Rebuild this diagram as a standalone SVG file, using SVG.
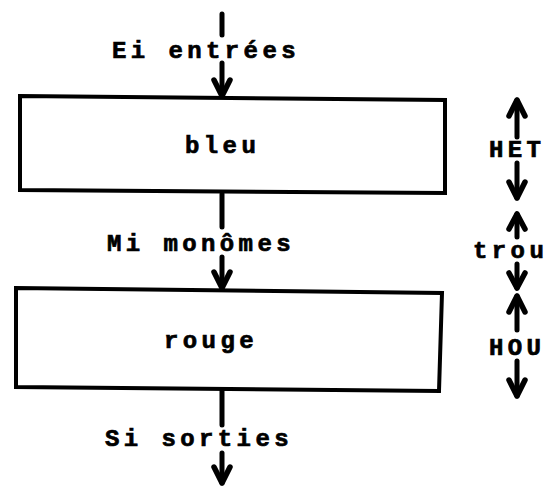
<svg xmlns="http://www.w3.org/2000/svg" width="548" height="486" viewBox="0 0 548 486">
<defs>
<style>
.t{font-family:"Liberation Mono","Courier New",monospace;font-weight:bold;font-size:24px;letter-spacing:4.4px;fill:#000;stroke:#000;stroke-width:0.7px}
.box{fill:none;stroke:#000;stroke-width:4;stroke-linejoin:miter}
.ln{fill:none;stroke:#000;stroke-width:5;stroke-linecap:round}
.hd{fill:none;stroke:#000;stroke-width:5.5;stroke-linecap:round;stroke-linejoin:round}
</style>
</defs>
<rect width="548" height="486" fill="#fff"/>
<g id="bleu">
<path class="box" d="M20,96 L445,100 L445,193 L20,190 Z"/>
<text class="t" x="185" y="153">bleu</text>
</g>
<g id="rouge">
<path class="box" d="M16,288 L442,293 L439,391 L16,387 Z"/>
<text class="t" x="164" y="348">rouge</text>
</g>
<g id="labels">
<text class="t" x="112" y="58">Ei entrées</text>
<text class="t" x="107" y="251">Mi monômes</text>
<text class="t" x="105" y="446">Si sorties</text>
<text class="t" x="489" y="157">HET</text>
<text class="t" x="473" y="258">trou</text>
<text class="t" x="489" y="355">HOU</text>
</g>
<g id="connectors">
<path class="ln" d="M222,14 V35"/>
<path class="ln" d="M222,63 V96"/>
<path class="hd" d="M214,80 L222,96 L230,80"/>
<path class="ln" d="M222,194 V227"/>
<path class="ln" d="M222,257 V288"/>
<path class="hd" d="M214,272 L222,288 L230,272"/>
<path class="ln" d="M222,390 V425"/>
<path class="ln" d="M222,453 V483"/>
<path class="hd" d="M214,467 L222,483 L230,467"/>
<path class="ln" d="M517,100 V137"/>
<path class="hd" d="M509,116 L517,100 L525,116"/>
<path class="ln" d="M517,163 V198"/>
<path class="hd" d="M509,182 L517,198 L525,182"/>
<path class="ln" d="M517,214 V237"/>
<path class="hd" d="M509,229 L517,214 L525,229"/>
<path class="ln" d="M517,264 V288"/>
<path class="hd" d="M509,273 L517,288 L525,273"/>
<path class="ln" d="M517,296 V330"/>
<path class="hd" d="M509,312 L517,296 L525,312"/>
<path class="ln" d="M517,361 V396"/>
<path class="hd" d="M509,380 L517,396 L525,380"/>
</g>
</svg>
